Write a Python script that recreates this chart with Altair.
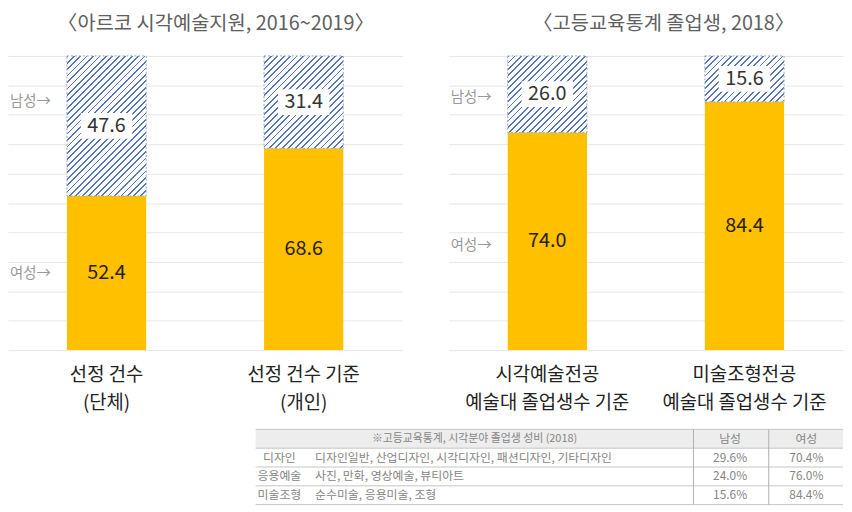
import altair as alt
import pandas as pd

# ---------------- data ----------------
left_title = "〈아르코 시각예술지원, 2016~2019〉"
right_title = "〈고등교육통계 졸업생, 2018〉"
left_categories = ["선정 건수|(단체)", "선정 건수 기준|(개인)"]
left_female = [52.4, 68.6]
left_male = [47.6, 31.4]
right_categories = ["시각예술전공|예술대 졸업생수 기준", "미술조형전공|예술대 졸업생수 기준"]
right_female = [74.0, 84.4]
right_male = [26.0, 15.6]
side_labels = ["남성→", "여성→"]

table_header = ["※고등교육통계, 시각분야 졸업생 성비 (2018)", "남성", "여성"]
table_field = ["디자인", "응용예술", "미술조형"]
table_desc = ["디자인일반, 산업디자인, 시각디자인, 패션디자인, 기타디자인",
              "사진, 만화, 영상예술, 뷰티아트",
              "순수미술, 응용미술, 조형"]
table_male = ["29.6%", "24.0%", "15.6%"]
table_female = ["70.4%", "76.0%", "84.4%"]

# ---------------- style ----------------
FONT = "Noto Sans CJK KR"
YELLOW = "#FFC000"
STRIPE = "#5576bc"
PANEL_W = 398
PANEL_H = 297
BAR_W = 80
PPU = PANEL_H / 100.0


def hatch(h_px, w_px=BAR_W, period=6.5, frac=0.28):
    """Linear gradient with hard stops that looks like '///' hatching."""
    r = h_px / w_px
    a = (1 + r) / (1 + r * r)
    total = w_px + h_px
    stops = []
    i = 0
    while i * period < total:
        s = i * period / total
        m = min((i * period + period * frac) / total, 1.0)
        e = min((i + 1) * period / total, 1.0)
        stops += [alt.GradientStop(offset=round(s, 5), color=STRIPE),
                  alt.GradientStop(offset=round(m, 5), color=STRIPE),
                  alt.GradientStop(offset=round(m, 5), color="#ffffff"),
                  alt.GradientStop(offset=round(e, 5), color="#ffffff")]
        i += 1
    return alt.LinearGradient(gradient="linear", x1=0, y1=0, x2=round(a, 5),
                              y2=round(a * r, 5), stops=stops)


YAXIS = alt.Axis(values=list(range(0, 101, 10)), grid=True, labels=False,
                 ticks=False, domain=False, title=None,
                 gridColor="#e6e6e6", gridWidth=1)


def panel(cats, female, male, title, side_y, title_dx):
    df = pd.DataFrame({"cat": cats, "female": female, "male": male})
    df["top"] = df["female"] + df["male"]
    df["mid_f"] = df["female"] / 2
    df["mid_m"] = df["female"] + df["male"] / 2
    df["box_lo"] = df["mid_m"] - 13 / PPU
    df["box_hi"] = df["mid_m"] + 13 / PPU
    df["f_txt"] = df["female"].map(lambda v: f"{v:.1f}")
    df["m_txt"] = df["male"].map(lambda v: f"{v:.1f}")

    x = alt.X("cat:N", sort=cats,
              scale=alt.Scale(paddingInner=0, paddingOuter=0),
              axis=alt.Axis(title=None, labelAngle=0, ticks=False, domain=False,
                            labelFontSize=19, labelColor="#222", labelFont=FONT,
                            labelPadding=16, labelLineHeight=28,
                            labelExpr="split(datum.label, '|')"))
    ysc = alt.Scale(domain=[0, 100], nice=False)
    base = alt.Chart(df).encode(x=x)

    def Y(f):
        return alt.Y(f, scale=ysc, axis=YAXIS)

    layers = [base.mark_bar(fill=YELLOW, width=BAR_W).encode(y=Y("female:Q"))]
    for i, c in enumerate(cats):
        h_px = male[i] * PPU
        layers.append(
            base.transform_filter(alt.datum.cat == c).mark_bar(
                fill=hatch(h_px), stroke="#8ea5d4", strokeWidth=1,
                strokeDash=[2, 2], width=BAR_W).encode(
                y=Y("female:Q"), y2="top:Q"))
    layers.append(base.mark_bar(fill="white", width=52).encode(
        y=Y("box_lo:Q"), y2="box_hi:Q"))
    layers.append(base.mark_text(fontSize=20, font=FONT, color="#333").encode(
        y=Y("mid_m:Q"), text="m_txt:N"))
    layers.append(base.mark_text(fontSize=20, font=FONT, color="#2a2000").encode(
        y=Y("mid_f:Q"), text="f_txt:N"))
    for lab, yp in zip(side_labels, side_y):
        layers.append(alt.Chart(pd.DataFrame({"t": [lab]})).mark_text(
            fontSize=14.5, font=FONT, color="#999999", align="left").encode(
            x=alt.value(2), y=alt.value(yp), text="t:N"))

    return alt.layer(*layers).properties(
        width=PANEL_W, height=PANEL_H,
        title=alt.TitleParams(title, fontSize=20, font=FONT, color="#606060",
                              fontWeight="normal", offset=22, dx=title_dx,
                              anchor="middle"))


left = panel(left_categories, left_female, left_male, left_title, [47, 220], 11)
right = panel(right_categories, right_female, right_male, right_title, [43, 192], 18)
top = alt.hconcat(left, right, spacing=47)

# ---------------- table ----------------
TW = 843
TH = 76
n_rows = len(table_field)
tysc = alt.Scale(domain=[0, n_rows + 1], reverse=True, nice=False)
TX0, TX1, VX1, VX2 = 250, 843, 692, 768
TCOL = "#858585"

hdr_bg = alt.Chart(pd.DataFrame({"a": [0], "b": [1]})).mark_rect(fill="#ededed").encode(
    x=alt.value(TX0), x2=alt.value(TX1),
    y=alt.Y("a:Q", scale=tysc, axis=None), y2="b:Q")
hlines = alt.Chart(pd.DataFrame({"r": list(range(n_rows + 2))})).mark_rule(
    color="#c4c4c4", strokeWidth=1).encode(
    x=alt.value(TX0), x2=alt.value(TX1), y=alt.Y("r:Q", scale=tysc, axis=None))
span = pd.DataFrame({"a": [0], "b": [n_rows + 1]})
t_layers = [hdr_bg, hlines]
for xv in (VX1, VX2):
    t_layers.append(alt.Chart(span).mark_rule(color="#b0b0b0", strokeWidth=1).encode(
        x=alt.value(xv), y=alt.Y("a:Q", scale=tysc, axis=None), y2="b:Q"))

hdr = pd.DataFrame({"t": table_header, "r": [0.5] * 3})
body = pd.DataFrame({"field": table_field, "desc": table_desc,
                     "m": table_male, "f": table_female,
                     "r": [i + 1.5 for i in range(n_rows)]})
for txt, xp, fs in zip(table_header, [471, 729, 806], [11, 12, 12]):
    t_layers.append(alt.Chart(hdr[hdr["t"] == txt]).mark_text(
        fontSize=fs, font=FONT, color=TCOL).encode(
        x=alt.value(xp), y=alt.Y("r:Q", scale=tysc, axis=None), text="t:N"))
for col, xp, al, fs in [("field", 274, "center", 12), ("desc", 310, "left", 12),
                        ("m", 729, "center", 12), ("f", 806, "center", 12)]:
    t_layers.append(alt.Chart(body).mark_text(
        align=al, fontSize=fs, font=FONT, color=TCOL).encode(
        x=alt.value(xp), y=alt.Y("r:Q", scale=tysc, axis=None), text=f"{col}:N"))

table = alt.layer(*t_layers).properties(width=TW, height=TH)

chart = alt.vconcat(top, table, spacing=16).properties(
    padding={"left": 0, "top": 3, "right": 0, "bottom": 0}
).configure(font=FONT, background="white").configure_view(stroke=None)

chart.save("out.html", embed_options={"renderer": "svg", "actions": False})
